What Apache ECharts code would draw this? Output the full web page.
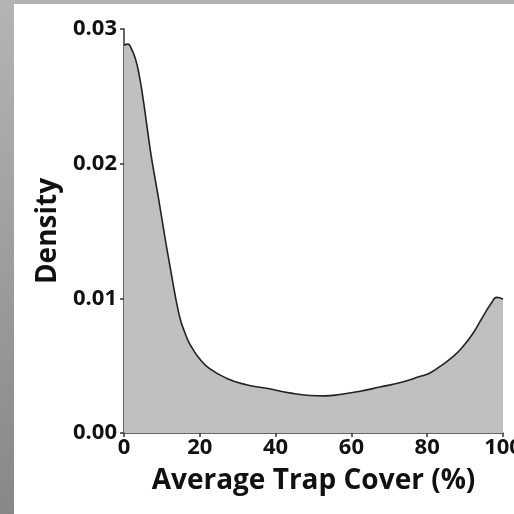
<!DOCTYPE html>
<html>
<head>
<meta charset="utf-8">
<script src="https://cdn.jsdelivr.net/npm/echarts@6/dist/echarts.min.js"></script>
<style>
  html, body { margin: 0; padding: 0; background: #ffffff; }
  #chart { width: 514px; height: 514px; }
</style>
</head>
<body>
<div id="chart"></div>
<script>
// Kernel density estimate of average trap cover
const coverPct = [0, 1, 2, 3, 4, 5, 6, 7, 8, 9, 10, 11, 12, 13, 14, 15, 16, 17, 18,
  20, 22.5, 27, 32, 38, 44, 49, 53, 57, 62, 67.5, 73, 78, 80.6, 83.3, 86.8, 89.4,
  92.1, 94.7, 96.9, 98.3, 99.1, 100];
const density = [0.0288, 0.02888, 0.0285, 0.0278, 0.0266, 0.0249, 0.0229, 0.0209,
  0.0192, 0.0176, 0.0159, 0.0142, 0.0126, 0.0110, 0.0095, 0.0083, 0.0075, 0.0068,
  0.0063, 0.0055, 0.0048, 0.00407, 0.0036, 0.0033, 0.00296, 0.00279, 0.00276,
  0.00286, 0.00308, 0.00341, 0.00375, 0.00419, 0.00444, 0.00493, 0.00567, 0.00641,
  0.00741, 0.00864, 0.00963, 0.01007, 0.01004, 0.00993];
const xTicks = [0, 20, 40, 60, 80, 100];
const yTicks = [0, 0.01, 0.02, 0.03];

const FONT = '"Open Sans", "DejaVu Sans", sans-serif';
const INK = '#111111';

const chart = echarts.init(document.getElementById('chart'), null, { renderer: 'canvas' });

const points = coverPct.map((x, i) => [x, density[i]]);

chart.setOption({
  backgroundColor: '#ffffff',
  animation: false,
  graphic: [
    {
      type: 'rect', left: 0, top: 0, z: -10,
      shape: { width: 514, height: 4 },
      style: { fill: '#b3b3b3' }
    },
    {
      type: 'rect', left: 0, top: 0, z: -10,
      shape: { width: 14, height: 514 },
      style: {
        fill: new echarts.graphic.LinearGradient(0, 0, 0, 1, [
          { offset: 0, color: '#b4b4b4' },
          { offset: 1, color: '#878787' }
        ])
      }
    }
  ],
  grid: {
    left: 124, right: 11, top: 29, bottom: 81,
    containLabel: false, outerBoundsMode: 'none'
  },
  xAxis: {
    type: 'value',
    min: 0, max: 100, interval: 20,
    name: 'Average Trap Cover (%)',
    nameLocation: 'middle',
    nameGap: 34,
    nameTextStyle: { fontFamily: FONT, fontWeight: 'bold', fontSize: 28, color: INK },
    axisLine: { show: true, onZero: false, lineStyle: { color: '#333333', width: 1.5 } },
    axisTick: { show: true, length: 4, lineStyle: { color: '#333333', width: 1.5 } },
    splitLine: { show: false },
    axisLabel: {
      fontFamily: FONT, fontWeight: 'bold', fontSize: 22, color: INK, margin: 4,
      hideOverlap: false,
      formatter: v => xTicks.includes(v) ? String(v) : ''
    }
  },
  yAxis: {
    type: 'value',
    min: 0, max: 0.03, interval: 0.01,
    name: 'Density',
    nameLocation: 'middle',
    nameRotate: 90,
    nameGap: 62,
    nameTextStyle: { fontFamily: FONT, fontWeight: 'bold', fontSize: 28, color: INK },
    axisLine: { show: true, onZero: false, lineStyle: { color: '#333333', width: 1.5 } },
    axisTick: { show: true, length: 4, lineStyle: { color: '#333333', width: 1.5 } },
    splitLine: { show: false },
    axisLabel: {
      fontFamily: FONT, fontWeight: 'bold', fontSize: 22, color: INK, margin: 7,
      formatter: v => {
        const t = yTicks.find(k => Math.abs(k - v) < 1e-9);
        return t === undefined ? '' : t.toFixed(2);
      }
    }
  },
  series: [
    {
      type: 'line',
      data: points,
      smooth: 0.5,
      showSymbol: false,
      symbol: 'none',
      lineStyle: { color: '#222222', width: 1.6 },
      areaStyle: { color: '#c0c0c0', opacity: 1 },
      z: 1
    }
  ]
});
</script>
</body>
</html>
